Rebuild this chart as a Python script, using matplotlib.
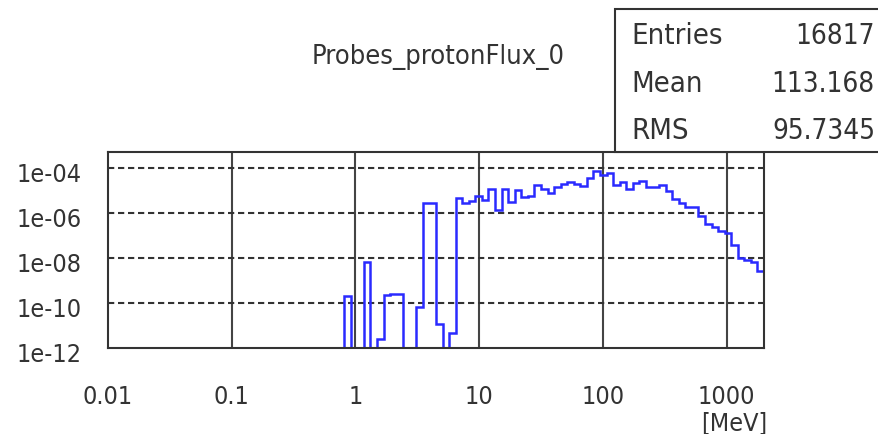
import matplotlib.pyplot as plt
import matplotlib.transforms as mtransforms
import numpy as np

# histogram binning: 100 log bins, 0.01 .. 2000 MeV
n_bins = 100
e_min, e_max = 0.01, 2000.0

# bin contents (first 36 bins are empty)
flux = [0] * 36 + [
    2.0e-10, 0, 0, 6.3e-9, 0, 2.5e-12, 2.2e-10, 2.5e-10, 2.5e-10, 0,
    0, 6.5e-11, 2.8e-6, 2.8e-6, 1.2e-11, 0, 4.7e-12, 4.6e-6, 2.6e-6, 3.5e-6,
    5.4e-6, 3.6e-6, 1.17e-5, 1.3e-6, 1.1e-5, 3.0e-6, 1.02e-5, 4.9e-6, 5.8e-6, 1.66e-5,
    1.17e-5, 7.8e-6, 1.4e-5, 1.86e-5, 2.45e-5, 1.86e-5, 1.55e-5, 3.5e-5, 7.4e-5, 4.8e-5,
    5.8e-5, 1.78e-5, 2.4e-5, 1.1e-5, 2.0e-5, 2.5e-5, 1.45e-5, 1.45e-5, 1.7e-5, 8.9e-6,
    4.1e-6, 2.6e-6, 1.74e-6, 1.9e-6, 7.4e-7, 3.2e-7, 2.3e-7, 1.6e-7, 1.26e-7, 3.7e-8,
    1.0e-8, 8.3e-9, 6.3e-9, 2.7e-9,
]

x_ticks = [0.01, 0.1, 1, 10, 100, 1000]
x_labels = ["0.01", "0.1", "1", "10", "100", "1000"]
y_ticks = [1e-12, 1e-10, 1e-08, 1e-06, 1e-04]
y_labels = ["1e-12", "1e-10", "1e-08", "1e-06", "1e-04"]

stats_names = ["Entries", "Mean", "RMS"]
stats_values = ["16817", "113.168", "95.7345"]

title = "Probes_protonFlux_0"
unit = "[MeV]"

W, H = 879, 435
fig = plt.figure(figsize=(W / 100, H / 100), dpi=100)
fig.patch.set_facecolor("white")

left, right, top, bottom = 108, 764, 153, 349
ax = fig.add_axes([left / W, 1 - bottom / H, (right - left) / W, (bottom - top) / H])

edges = np.logspace(np.log10(e_min), np.log10(e_max), n_bins + 1)
vals = np.array(flux, dtype=float)
vals = np.where(vals > 0, vals, 1e-16)
ax.stairs(vals, edges, color="#2a2aff", linewidth=1.8, zorder=3, baseline=None)

ax.set_xscale("log")
ax.set_yscale("log")
ax.set_xlim(e_min, e_max)
ax.set_ylim(1e-12, 5e-4)

txt = dict(fontsize=18, color="#333333", family="DejaVu Sans",
           fontstretch="condensed", fontweight="light")

ax.set_xticks(x_ticks)
ax.set_xticklabels(x_labels, **txt)
ax.set_yticks(y_ticks)
ax.set_yticklabels(y_labels, **txt)
ax.minorticks_off()
ax.tick_params(length=0, pad=0)
ax.tick_params(axis="x", pad=26)
ax.tick_params(axis="y", pad=19)

# ROOT puts the y labels a bit below their grid lines
shift = mtransforms.ScaledTranslation(0, -4 / 100, fig.dpi_scale_trans)
for lab in ax.get_yticklabels():
    lab.set_transform(lab.get_transform() + shift)

for xv in x_ticks[1:]:
    ax.axvline(xv, color="#444444", linewidth=1.5, zorder=1)
for yv in y_ticks[1:]:
    ax.axhline(yv, color="#333333", linewidth=1.5, linestyle=(0, (3, 1.8)), zorder=1)

for s in ax.spines.values():
    s.set_linewidth(1.5)
    s.set_color("#333333")
    s.set_zorder(4)

fig.text(438 / W, 1 - 57 / H, title, ha="center", va="center", **dict(txt, fontsize=19.5))
fig.text(734 / W, 1 - 423 / H, unit, ha="center", va="center", **txt)

# stats box
bx0, by0, bx1, by1 = 615, 10, 885, 153
box = plt.Rectangle((bx0 / W, 1 - by1 / H), (bx1 - bx0) / W, (by1 - by0) / H,
                    transform=fig.transFigure, facecolor="white",
                    edgecolor="#333333", linewidth=1.5, zorder=5)
fig.add_artist(box)
row_y = [36, 84, 131]
for name, val, yy in zip(stats_names, stats_values, row_y):
    fig.text(631 / W, 1 - yy / H, name, ha="left", va="center", zorder=6, **dict(txt, fontsize=21))
    fig.text(875 / W, 1 - yy / H, val, ha="right", va="center", zorder=6, **dict(txt, fontsize=20))

fig.savefig("out.png", dpi=100)
